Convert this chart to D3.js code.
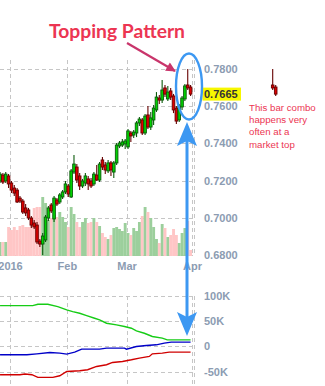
<!DOCTYPE html>
<html>
<head>
<meta charset="utf-8">
<script src="https://cdn.jsdelivr.net/npm/d3@7"></script>
<style>
  html, body { margin: 0; padding: 0; background: #fff; overflow: hidden; }
  svg { display: block; }
</style>
</head>
<body>
<svg id="chart" width="325" height="386"></svg>
<script>
// Trading days shown on the chart (one candle per day)
const days = [
  "2015-12-28","2015-12-29","2015-12-30","2015-12-31",
  "2016-01-04","2016-01-05","2016-01-06","2016-01-07","2016-01-08",
  "2016-01-11","2016-01-12","2016-01-13","2016-01-14","2016-01-15",
  "2016-01-18","2016-01-19","2016-01-20","2016-01-21","2016-01-22",
  "2016-01-25","2016-01-26","2016-01-27","2016-01-28","2016-01-29",
  "2016-02-01","2016-02-02","2016-02-03","2016-02-04","2016-02-05",
  "2016-02-08","2016-02-09","2016-02-10","2016-02-11","2016-02-12",
  "2016-02-15","2016-02-16","2016-02-17","2016-02-18","2016-02-19",
  "2016-02-22","2016-02-23","2016-02-24","2016-02-25","2016-02-26",
  "2016-02-29",
  "2016-03-01","2016-03-02","2016-03-03","2016-03-04",
  "2016-03-07","2016-03-08","2016-03-09","2016-03-10","2016-03-11",
  "2016-03-14","2016-03-15","2016-03-16","2016-03-17","2016-03-18",
  "2016-03-21","2016-03-22","2016-03-23","2016-03-24","2016-03-25",
  "2016-03-28","2016-03-29","2016-03-30","2016-03-31"
];

// Daily OHLC
const open = [
  0.7198,0.7230,0.7198,0.7225,0.7187,0.7160,0.7149,0.7106,0.7090,0.7053,
  0.7042,0.6999,0.6972,0.6961,0.6875,0.6859,0.6881,0.6999,0.7069,0.6994,
  0.7096,0.7085,0.7112,0.7139,0.7171,0.7112,0.7246,0.7273,0.7225,0.7171,
  0.7187,0.7209,0.7198,0.7182,0.7230,0.7203,0.7311,0.7284,0.7252,0.7295,
  0.7246,0.7295,0.7386,0.7391,0.7397,0.7381,0.7456,0.7445,0.7456,0.7510,
  0.7526,0.7456,0.7553,0.7488,0.7526,0.7580,0.7644,0.7633,0.7698,0.7639,
  0.7682,0.7655,0.7590,0.7526,0.7596,0.7639,0.7714,0.7703
];
const high = [
  0.7246,0.7241,0.7246,0.7235,0.7198,0.7176,0.7160,0.7117,0.7101,0.7074,
  0.7053,0.7010,0.6988,0.6977,0.6886,0.6918,0.7015,0.7063,0.7080,0.7117,
  0.7106,0.7133,0.7149,0.7198,0.7182,0.7262,0.7338,0.7289,0.7241,0.7209,
  0.7241,0.7225,0.7214,0.7246,0.7284,0.7300,0.7327,0.7300,0.7311,0.7305,
  0.7305,0.7402,0.7413,0.7424,0.7424,0.7477,0.7467,0.7472,0.7520,0.7542,
  0.7537,0.7558,0.7601,0.7569,0.7606,0.7676,0.7660,0.7741,0.7714,0.7709,
  0.7698,0.7666,0.7601,0.7612,0.7655,0.7719,0.7800,0.7714
];
const low = [
  0.7187,0.7182,0.7187,0.7160,0.7133,0.7117,0.7080,0.7080,0.7020,0.7010,
  0.6988,0.6945,0.6940,0.6859,0.6843,0.6800,0.6870,0.6983,0.7026,0.6977,
  0.7063,0.7074,0.7101,0.7128,0.7112,0.7106,0.7235,0.7187,0.7149,0.7160,
  0.7171,0.7149,0.7160,0.7171,0.7198,0.7192,0.7257,0.7235,0.7241,0.7225,
  0.7214,0.7284,0.7375,0.7381,0.7370,0.7370,0.7408,0.7429,0.7434,0.7494,
  0.7445,0.7445,0.7477,0.7472,0.7499,0.7569,0.7612,0.7617,0.7649,0.7628,
  0.7633,0.7563,0.7504,0.7515,0.7580,0.7628,0.7687,0.7655
];
const close = [
  0.7235,0.7192,0.7235,0.7182,0.7149,0.7133,0.7085,0.7090,0.7031,0.7026,
  0.6999,0.6961,0.6951,0.6870,0.6859,0.6902,0.7004,0.7053,0.7037,0.7106,
  0.7074,0.7123,0.7139,0.7182,0.7128,0.7252,0.7289,0.7203,0.7171,0.7198,
  0.7225,0.7182,0.7171,0.7235,0.7203,0.7289,0.7273,0.7257,0.7295,0.7257,
  0.7295,0.7391,0.7402,0.7408,0.7413,0.7467,0.7440,0.7461,0.7510,0.7531,
  0.7456,0.7547,0.7488,0.7537,0.7590,0.7649,0.7633,0.7687,0.7665,0.7676,
  0.7649,0.7580,0.7520,0.7601,0.7644,0.7709,0.7698,0.7665
];

// Daily volume (thousand contracts)
const volume = [
  14,14,14,29,26,29,26,30,31,29,
  29,36,48,49,49,59,53,36,38,41,
  39,44,39,34,29,49,42,34,29,34,
  38,33,34,38,34,30,23,19,17,21,
  28,29,27,25,33,23,21,28,25,34,
  40,49,44,38,29,17,13,32,28,19,
  21,27,21,13,23,28,35,6
];

// Weekly positioning lines: [day index, net contracts] vertices
const greenPts = [
  [0,80800],[11.5,80800],[13.3,83500],[16.8,83500],[20.3,78800],[23.45,72300],
  [25.55,69000],[28,65700],[30.45,61000],[33.25,55800],[35,52500],[37.45,45900],
  [40.95,42600],[43.75,39300],[46.2,36000],[47.95,30700],[50.75,26000],
  [53.55,19500],[57.05,16200],[58.8,12900],[67,12900]
];
const bluePts = [
  [0,-16800],[9.45,-16800],[12.95,-14900],[17.5,-12200],[21,-13500],[23.45,-15500],
  [26.25,-11600],[28.7,-5600],[35,-5600],[37.45,-3600],[43.75,-3600],[44.45,-5600],
  [47.95,-300],[51.45,1700],[54.95,3000],[57.75,6300],[60.2,8300],[67,8300]
];
const redPts = [
  [0,-56400],[7,-56400],[8.75,-55000],[11.2,-56400],[13.3,-61700],[18.55,-61700],
  [21,-58400],[23.45,-49900],[28,-48500],[30.8,-46500],[33.95,-40000],[37.45,-36600],
  [39.55,-32000],[43.05,-30000],[46.2,-26700],[49,-23400],[52.5,-20100],
  [53.55,-14900],[57.05,-13500],[59.5,-11600],[67,-11600]
];

const priceTicks = [0.68, 0.70, 0.72, 0.74, 0.76, 0.78];
const monthLabels = ["2016", "Feb", "Mar", "Apr"];
const posTicks = [-50000, 0, 50000, 100000];
const posLabels = ["-50K", "0", "50K", "100K"];

const title = "Topping Pattern";
const note = ["This bar combo", "happens very", "often at a", "market top"];

// ---------------------------------------------------------------
const svg = d3.select("#chart");
const n = days.length;
const parse = d3.timeParse("%Y-%m-%d");
const dates = days.map(parse);

// month boundaries fall half a bar before each month's first session
const monthPos = [];
dates.forEach((d, i) => {
  if (i > 0 && d.getMonth() !== dates[i - 1].getMonth()) monthPos.push(i - 0.5);
});
monthPos.push(n - 0.5);

const x = d3.scaleLinear().domain([monthPos[0], monthPos[3]]).range([10, 192]);
const step = x(1) - x(0);

const plotLeft = 0, plotRight = 194.5;
const priceTop = 60, priceBottom = 256;
const y = d3.scaleLinear().domain([0.68, 0.78]).range([255, 69]);
const yVol = d3.scaleLinear().domain([0, 60]).range([256, 196]);
const yPos = d3.scaleLinear().domain([-50000, 100000]).range([371.5, 296]);
const posTop = 296, posBottom = 386;

const gridColor = "#c6c6c6";
const axisColor = "#8c9cb2";
const axisFont = "'Liberation Sans', Arial, sans-serif";

// ---- grid: price panel
const grid = svg.append("g").attr("stroke", gridColor).attr("stroke-width", 1)
  .attr("stroke-dasharray", "4,3").attr("fill", "none");
grid.selectAll(".hp").data(priceTicks).join("line")
  .attr("x1", plotLeft).attr("x2", plotRight)
  .attr("y1", d => Math.round(y(d)) + 0.5).attr("y2", d => Math.round(y(d)) + 0.5);
grid.selectAll(".vp").data(monthPos).join("line")
  .attr("x1", d => Math.round(x(d)) + 0.5).attr("x2", d => Math.round(x(d)) + 0.5)
  .attr("y1", priceTop).attr("y2", priceBottom);
grid.append("line").attr("x1", plotRight).attr("x2", plotRight)
  .attr("y1", priceTop).attr("y2", priceBottom);

// ---- grid: positioning panel
grid.selectAll(".hq").data(posTicks).join("line")
  .attr("x1", plotLeft).attr("x2", plotRight)
  .attr("y1", d => Math.round(yPos(d)) + 0.5).attr("y2", d => Math.round(yPos(d)) + 0.5);
grid.selectAll(".vq").data(monthPos).join("line")
  .attr("x1", d => Math.round(x(d)) + 0.5).attr("x2", d => Math.round(x(d)) + 0.5)
  .attr("y1", posTop).attr("y2", posBottom);
grid.append("line").attr("x1", plotRight).attr("x2", plotRight)
  .attr("y1", posTop).attr("y2", posBottom);

// ---- volume bars
const up = i => close[i] >= open[i];
svg.append("g").selectAll("rect").data(volume).join("rect")
  .attr("x", (d, i) => x(i) - step / 2)
  .attr("width", step + 0.05)
  .attr("y", d => yVol(d))
  .attr("height", d => yVol(0) - yVol(d))
  .attr("fill", (d, i) => up(i) ? "#9ccf9c" : "#ffc6c6");

// ---- candles
function drawCandles(g, idx, xf) {
  const c = g.selectAll("g").data(idx).join("g");
  c.append("line")
    .attr("x1", i => xf(i)).attr("x2", i => xf(i))
    .attr("y1", i => y(high[i])).attr("y2", i => y(low[i]))
    .attr("stroke", i => up(i) ? "#0a5a0a" : "#660000").attr("stroke-width", 1.1);
  c.append("rect")
    .attr("x", i => xf(i) - 1.3).attr("width", 2.6)
    .attr("y", i => Math.min(y(open[i]), y(close[i])))
    .attr("height", i => Math.max(1, Math.abs(y(open[i]) - y(close[i]))))
    .attr("fill", i => up(i) ? "#00d200" : "#dc0000")
    .attr("stroke", i => up(i) ? "#0a5a0a" : "#660000").attr("stroke-width", 0.9);
}
drawCandles(svg.append("g"), d3.range(n), x);

// the last two sessions repeated on the right as an illustration
const xi = d3.scalePoint().domain([n - 2, n - 1]).range([272.7, 275.7]);
drawCandles(svg.append("g"), [n - 2, n - 1], xi);

// ---- positioning lines
const line = d3.line().x(d => x(d[0])).y(d => yPos(d[1]));
[[greenPts, "#16cc16"], [bluePts, "#0000c8"], [redPts, "#d00000"]].forEach(([pts, col]) => {
  svg.append("path").datum(pts).attr("d", line)
    .attr("fill", "none").attr("stroke", col).attr("stroke-width", 1.4);
});

// ---- axes
const yAxis = svg.append("g").attr("transform", "translate(204,0)")
  .call(d3.axisRight(y).tickValues(priceTicks).tickFormat(d3.format(".4f")).tickSize(0).tickPadding(0));
const posAxis = svg.append("g").attr("transform", "translate(204,0)")
  .call(d3.axisRight(yPos).tickValues(posTicks).tickFormat((d, i) => posLabels[i]).tickSize(0).tickPadding(0));
const xAxis = svg.append("g").attr("transform", "translate(0,262)")
  .call(d3.axisBottom(x).tickValues(monthPos).tickFormat((d, i) => monthLabels[i]).tickSize(0).tickPadding(0));
[yAxis, posAxis, xAxis].forEach(g => {
  g.select(".domain").remove();
  g.selectAll("text").attr("fill", axisColor).attr("font-family", axisFont)
    .attr("font-weight", "bold").attr("font-size", 11);
});

// last price tag
const last = close[n - 1];
svg.append("rect").attr("x", 202.5).attr("y", y(last) - 6.5).attr("width", 38.5).attr("height", 13)
  .attr("fill", "#f7f700");
svg.append("text").attr("x", 204).attr("y", y(last)).attr("dy", "0.35em")
  .attr("font-family", axisFont).attr("font-weight", "bold").attr("font-size", 11)
  .attr("fill", "#333").text(d3.format(".4f")(last));

// ---- annotations
const red = "#ec3552";
svg.append("text").attr("x", 49).attr("y", 37.5)
  .attr("font-family", "Lato, sans-serif").attr("font-weight", 700)
  .attr("font-size", 19.3).attr("fill", red).text(title);

svg.append("g").selectAll("text").data(note).join("text")
  .attr("x", 249).attr("y", (d, i) => 110.5 + i * 12.4)
  .attr("font-family", axisFont).attr("font-size", 9.7)
  .attr("fill", red).text(d => d);

// pointer arrow to the top bars
const crimson = "#c9356b";
const defs = svg.append("defs");
defs.append("marker").attr("id", "head").attr("viewBox", "0 0 10 10")
  .attr("refX", 9).attr("refY", 5).attr("markerWidth", 5).attr("markerHeight", 4.4)
  .attr("orient", "auto").attr("markerUnits", "strokeWidth")
  .append("path").attr("d", "M0,0 L10,5 L0,10 Z").attr("fill", crimson);
svg.append("line").attr("x1", 127).attr("y1", 43).attr("x2", 175).attr("y2", 71)
  .attr("stroke", crimson).attr("stroke-width", 2.2).attr("marker-end", "url(#head)");

// circle round the topping bars
const blue = "#3d98f2";
svg.append("ellipse").attr("cx", 189).attr("cy", 86.5).attr("rx", 13).attr("ry", 33)
  .attr("fill", "none").attr("stroke", blue).attr("stroke-width", 2.4);

// double-headed arrow linking price top and positioning
const ax = 187, topTip = 122, botTip = 336;
svg.append("line").attr("x1", ax).attr("x2", ax).attr("y1", topTip + 16).attr("y2", botTip - 16)
  .attr("stroke", blue).attr("stroke-width", 3);
svg.append("path")
  .attr("d", `M${ax},${topTip} L${ax + 10},${topTip + 24} L${ax},${topTip + 19} L${ax - 10},${topTip + 24} Z`)
  .attr("fill", blue);
svg.append("path")
  .attr("d", `M${ax},${botTip} L${ax + 10},${botTip - 24} L${ax},${botTip - 19} L${ax - 10},${botTip - 24} Z`)
  .attr("fill", blue);
</script>
</body>
</html>
